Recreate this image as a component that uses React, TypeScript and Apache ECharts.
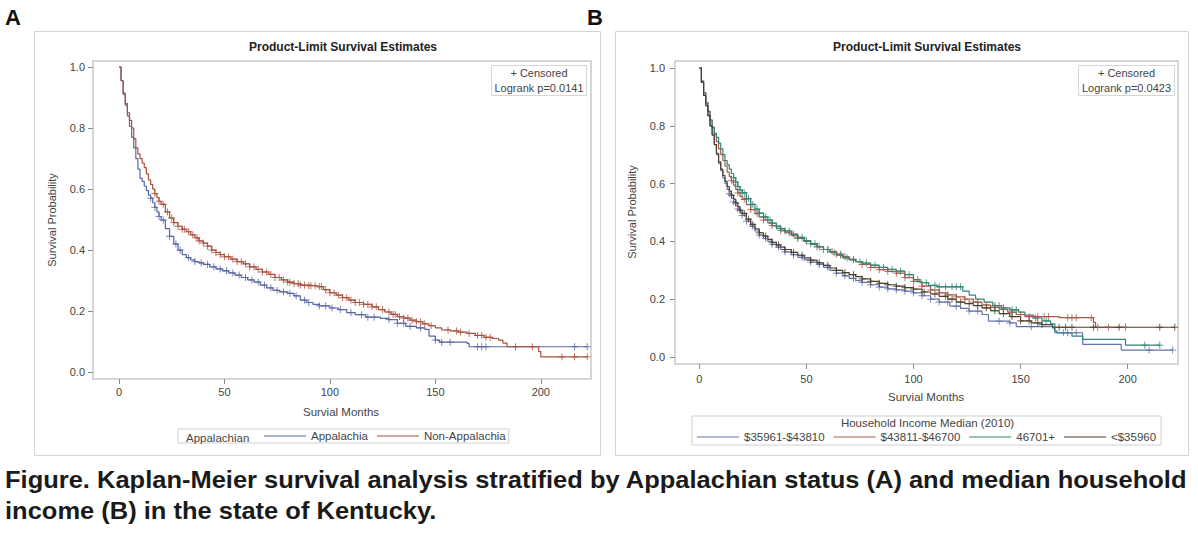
import React, { useEffect, useRef } from "react";
import * as echarts from "echarts";

// ---------- Panel A: survival by Appalachian status ----------
const appalachia: number[][] = [
  [0, 1], [1, 0.955], [2, 0.91], [3, 0.875], [4, 0.84], [5, 0.805], [6, 0.77], [7, 0.735], [8, 0.7],
  [9, 0.665], [10, 0.635], [11, 0.625], [12, 0.61], [13, 0.595], [14, 0.58], [15, 0.57], [16, 0.555],
  [17, 0.54], [18, 0.525], [19, 0.51], [20, 0.498], [22, 0.47], [24, 0.445], [26, 0.42], [28, 0.4],
  [30, 0.385], [32, 0.375], [34, 0.368], [36, 0.362], [38, 0.358], [40, 0.353], [43, 0.345], [46, 0.338],
  [49, 0.332], [52, 0.325], [55, 0.318], [58, 0.31], [61, 0.302], [64, 0.295], [67, 0.285], [70, 0.276],
  [73, 0.268], [76, 0.263], [80, 0.258], [83, 0.25], [86, 0.236], [89, 0.228], [92, 0.222], [95, 0.217],
  [100, 0.21], [104, 0.205], [108, 0.195], [112, 0.188], [117, 0.18], [124, 0.176], [128, 0.172],
  [132, 0.16], [136, 0.15], [141, 0.145], [145, 0.14], [147, 0.118], [150, 0.105], [152, 0.098],
  [165, 0.094], [166, 0.083], [222, 0.083],
];
const nonAppalachia: number[][] = [
  [0, 1], [1, 0.955], [2, 0.915], [3, 0.88], [4, 0.85], [5, 0.825], [6, 0.8], [7, 0.765], [8, 0.735],
  [9, 0.715], [10, 0.7], [11, 0.685], [12, 0.67], [13, 0.65], [14, 0.63], [15, 0.615], [16, 0.6],
  [17, 0.585], [18, 0.572], [19, 0.56], [20, 0.55], [22, 0.525], [24, 0.505], [26, 0.49], [28, 0.478],
  [30, 0.468], [32, 0.46], [34, 0.45], [36, 0.44], [38, 0.43], [40, 0.423], [42, 0.413], [44, 0.4],
  [46, 0.392], [48, 0.385], [50, 0.378], [53, 0.37], [56, 0.362], [59, 0.355], [62, 0.345], [65, 0.337],
  [68, 0.328], [71, 0.32], [74, 0.31], [77, 0.302], [80, 0.295], [83, 0.29], [86, 0.285], [90, 0.283],
  [94, 0.28], [97, 0.27], [100, 0.26], [103, 0.252], [106, 0.244], [109, 0.236], [112, 0.228],
  [116, 0.222], [120, 0.214], [123, 0.205], [126, 0.197], [129, 0.189], [132, 0.182], [135, 0.177],
  [138, 0.17], [141, 0.165], [144, 0.158], [147, 0.152], [150, 0.145], [153, 0.138], [157, 0.135],
  [161, 0.131], [165, 0.127], [169, 0.12], [173, 0.114], [177, 0.11], [180, 0.105], [182, 0.095],
  [184, 0.083], [199, 0.067], [200, 0.05], [222, 0.05],
];
const appalachiaCensored = [
  15, 17, 19, 21, 24, 27, 29, 33, 36, 39, 42, 45, 48, 51, 54, 57, 60, 63, 66, 69, 72, 75, 78, 81, 84,
  88, 90, 95, 98, 101, 105, 110, 115, 118, 121, 128, 132, 135, 138, 143, 150, 153, 157, 170, 172, 174,
  216, 222,
];
const nonAppalachiaCensored = [
  17, 19, 21, 23, 25, 26, 28, 30, 31, 33, 35, 37, 38, 40, 42, 44, 46, 48, 50, 52, 54, 56, 58, 60, 62,
  64, 66, 68, 70, 72, 74, 76, 78, 80, 81, 83, 85, 86, 88, 90, 91, 93, 95, 96, 98, 100, 102, 104, 106,
  108, 110, 112, 114, 116, 118, 120, 122, 125, 128, 130, 131, 133, 135, 137, 139, 141, 143, 145, 148,
  156, 160, 162, 166, 170, 172, 174, 176, 188, 196, 210, 216, 222,
];

// ---------- Panel B: survival by household income median ----------
const income35961: number[][] = [
  [0, 1], [1, 0.95], [2, 0.905], [3, 0.87], [4, 0.835], [5, 0.8], [6, 0.77], [7, 0.735], [8, 0.7],
  [9, 0.67], [10, 0.645], [11, 0.62], [12, 0.6], [13, 0.58], [14, 0.565], [15, 0.55], [16, 0.537],
  [17, 0.524], [18, 0.512], [19, 0.5], [20, 0.49], [22, 0.47], [24, 0.452], [26, 0.436], [28, 0.422],
  [30, 0.41], [32, 0.4], [34, 0.39], [36, 0.38], [38, 0.372], [40, 0.364], [43, 0.354], [46, 0.345],
  [49, 0.336], [52, 0.328], [55, 0.32], [58, 0.31], [61, 0.3], [64, 0.29], [67, 0.281], [70, 0.272],
  [73, 0.264], [76, 0.258], [80, 0.25], [84, 0.242], [88, 0.236], [92, 0.232], [96, 0.228], [100, 0.222],
  [104, 0.212], [108, 0.2], [112, 0.19], [117, 0.176], [122, 0.168], [126, 0.159], [132, 0.147],
  [135, 0.124], [145, 0.118], [148, 0.105], [165, 0.1], [166, 0.084], [179, 0.044], [197, 0.024],
  [221, 0.024],
];
const income43811: number[][] = [
  [0, 1], [1, 0.955], [2, 0.915], [3, 0.88], [4, 0.85], [5, 0.82], [6, 0.795], [7, 0.77], [8, 0.745],
  [9, 0.72], [10, 0.7], [11, 0.68], [12, 0.66], [13, 0.64], [14, 0.625], [15, 0.61], [16, 0.595],
  [17, 0.58], [18, 0.568], [19, 0.556], [20, 0.545], [22, 0.527], [24, 0.51], [26, 0.496], [28, 0.484],
  [30, 0.474], [32, 0.464], [34, 0.455], [36, 0.446], [38, 0.438], [40, 0.43], [43, 0.42], [46, 0.41],
  [49, 0.4], [52, 0.39], [55, 0.381], [58, 0.372], [61, 0.365], [64, 0.356], [67, 0.347], [70, 0.338],
  [73, 0.33], [76, 0.32], [80, 0.31], [84, 0.302], [88, 0.296], [92, 0.29], [96, 0.275], [100, 0.262],
  [104, 0.245], [108, 0.232], [112, 0.222], [116, 0.215], [120, 0.208], [124, 0.2], [128, 0.19],
  [132, 0.18], [136, 0.172], [140, 0.165], [144, 0.155], [148, 0.147], [152, 0.14], [168, 0.136],
  [184, 0.12], [185, 0.103], [199, 0.103],
];
const income46701: number[][] = [
  [0, 1], [1, 0.955], [2, 0.915], [3, 0.88], [4, 0.85], [5, 0.82], [6, 0.795], [7, 0.775], [8, 0.76],
  [9, 0.74], [10, 0.72], [11, 0.7], [12, 0.68], [13, 0.665], [14, 0.65], [15, 0.635], [16, 0.62],
  [17, 0.605], [18, 0.59], [19, 0.578], [20, 0.568], [22, 0.548], [24, 0.528], [26, 0.512], [28, 0.498],
  [30, 0.485], [32, 0.474], [34, 0.463], [36, 0.453], [38, 0.444], [40, 0.436], [43, 0.425], [46, 0.414],
  [49, 0.403], [52, 0.392], [55, 0.382], [58, 0.372], [61, 0.362], [64, 0.352], [67, 0.343], [70, 0.336],
  [73, 0.33], [76, 0.325], [80, 0.318], [84, 0.31], [88, 0.303], [92, 0.297], [96, 0.285], [100, 0.268],
  [103, 0.257], [107, 0.248], [111, 0.243], [123, 0.228], [126, 0.214], [129, 0.2], [133, 0.19],
  [137, 0.178], [141, 0.17], [145, 0.163], [149, 0.155], [152, 0.145], [156, 0.135], [160, 0.125],
  [164, 0.115], [166, 0.09], [167, 0.083], [174, 0.072], [179, 0.061], [199, 0.041], [215, 0.041],
];
const incomeUnder35960: number[][] = [
  [0, 1], [1, 0.95], [2, 0.905], [3, 0.87], [4, 0.835], [5, 0.8], [6, 0.768], [7, 0.735], [8, 0.705],
  [9, 0.675], [10, 0.65], [11, 0.628], [12, 0.608], [13, 0.59], [14, 0.574], [15, 0.56], [16, 0.546],
  [17, 0.533], [18, 0.52], [19, 0.508], [20, 0.497], [22, 0.477], [24, 0.459], [26, 0.443], [28, 0.43],
  [30, 0.418], [32, 0.407], [34, 0.397], [36, 0.388], [38, 0.38], [40, 0.372], [43, 0.362], [46, 0.352],
  [49, 0.343], [52, 0.335], [55, 0.326], [58, 0.317], [61, 0.308], [64, 0.3], [67, 0.292], [70, 0.285],
  [73, 0.278], [76, 0.27], [80, 0.262], [84, 0.255], [88, 0.25], [92, 0.245], [96, 0.24], [100, 0.235],
  [104, 0.225], [108, 0.218], [112, 0.21], [116, 0.2], [120, 0.19], [124, 0.185], [128, 0.178],
  [132, 0.17], [136, 0.16], [140, 0.15], [145, 0.14], [150, 0.125], [155, 0.118], [160, 0.112],
  [165, 0.103], [222, 0.103],
];
const income35961Censored = [
  14, 16, 18, 20, 22, 25, 28, 31, 34, 37, 40, 44, 48, 52, 56, 60, 64, 68, 72, 76, 80, 84, 88, 92, 96,
  100, 104, 108, 112, 116, 120, 126, 130, 140, 145, 155, 170, 172, 176, 210, 221,
];
const income43811Censored = [
  15, 18, 21, 24, 27, 30, 34, 38, 42, 46, 50, 55, 60, 62, 64, 66, 68, 72, 76, 80, 84, 88, 92, 96, 100,
  104, 108, 112, 116, 120, 124, 128, 130, 134, 138, 142, 146, 150, 154, 158, 161, 163, 172, 174, 176,
  183, 186, 191, 199,
];
const income46701Censored = [
  16, 17, 18, 19, 20, 21, 22, 23, 24, 25, 27, 28, 30, 31, 33, 34, 36, 38, 40, 42, 44, 46, 48, 50, 52,
  54, 56, 58, 60, 63, 66, 69, 72, 75, 78, 82, 86, 90, 94, 98, 102, 106, 110, 112, 115, 118, 120, 122,
  138, 140, 142, 146, 148, 157, 162, 208, 215,
];
const incomeUnder35960Censored = [
  15, 17, 19, 21, 23, 25, 28, 31, 34, 37, 40, 44, 48, 52, 56, 60, 64, 68, 72, 76, 80, 84, 88, 92, 96,
  100, 105, 110, 115, 118, 122, 126, 130, 134, 138, 142, 146, 150, 154, 158, 160, 168, 171, 174, 184,
  196, 215, 222,
];

const monthTicks = [0, 50, 100, 150, 200];
const probTicks = [0, 0.2, 0.4, 0.6, 0.8, 1.0];

const groupsA = [
  { name: "Appalachia", curve: appalachia, censored: appalachiaCensored, color: "#5867a3" },
  { name: "Non-Appalachia", curve: nonAppalachia, censored: nonAppalachiaCensored, color: "#a9503f" },
];
const groupsB = [
  { name: "$35961-$43810", curve: income35961, censored: income35961Censored, color: "#6373ad" },
  { name: "$43811-$46700", curve: income43811, censored: income43811Censored, color: "#a85a48" },
  { name: "46701+", curve: income46701, censored: income46701Censored, color: "#2f8577" },
  { name: "<$35960", curve: incomeUnder35960, censored: incomeUnder35960Censored, color: "#4e3d2b" },
];

const FONT = "'Liberation Sans', Arial, sans-serif";
const PLUS = "path://M0,5L10,5M5,0L5,10";

// Kaplan-Meier value in effect at time t (last step at or before t)
function survivalAt(curve: number[][], t: number): number {
  let v = curve[0][1];
  for (const [x, y] of curve) {
    if (x <= t) v = y;
    else break;
  }
  return v;
}

function makeSeries(groups: typeof groupsA, axisIndex: number) {
  const out: any[] = [];
  groups.forEach((g) => {
    out.push({
      type: "line",
      name: g.name,
      xAxisIndex: axisIndex,
      yAxisIndex: axisIndex,
      step: "end",
      showSymbol: false,
      data: g.curve,
      lineStyle: { color: g.color, width: 1.2 },
      itemStyle: { color: g.color },
      z: 2,
    });
    out.push({
      type: "scatter",
      name: g.name + " censored",
      xAxisIndex: axisIndex,
      yAxisIndex: axisIndex,
      symbol: PLUS,
      symbolSize: 7,
      data: g.censored.map((t) => [t, survivalAt(g.curve, t)]),
      itemStyle: { color: g.color, borderColor: g.color, borderWidth: 1 },
      z: 3,
    });
  });
  return out;
}

function axisPair(
  xMin: number, xMax: number, yMin: number, yMax: number, idx: number,
  xMargin: number, yMargin: number
) {
  const tickStyle = { show: true, length: 5, lineStyle: { color: "#8c8c8c", width: 1 } };
  const labelStyle = { color: "#444", fontSize: 11, fontFamily: FONT };
  return {
    x: {
      type: "value", gridIndex: idx, min: xMin, max: xMax, position: "bottom",
      splitLine: { show: false }, axisLine: { show: false, onZero: false },
      axisTick: { ...tickStyle, customValues: monthTicks },
      axisLabel: { ...labelStyle, margin: xMargin, customValues: monthTicks },
    },
    y: {
      type: "value", gridIndex: idx, min: yMin, max: yMax, position: "left",
      splitLine: { show: false }, axisLine: { show: false, onZero: false },
      axisTick: { ...tickStyle, customValues: probTicks },
      axisLabel: {
        ...labelStyle, margin: yMargin, customValues: probTicks,
        formatter: (v: number) => v.toFixed(1),
      },
    },
  };
}

function text(x: number, y: number, s: string, opts: any = {}) {
  return {
    type: "text",
    x, y,
    rotation: opts.rotation || 0,
    scaleX: opts.scaleX || 1,
    z: 10,
    style: {
      text: s,
      fill: opts.color || "#333",
      fontSize: opts.size || 11,
      fontWeight: opts.weight || "normal",
      fontFamily: FONT,
      textAlign: opts.align || "center",
      textVerticalAlign: "middle",
    },
  };
}

const caption1 = "Figure. Kaplan-Meier survival analysis stratified by Appalachian status (A) and median household";
const caption2 = "income (B) in the state of Kentucky.";

export default function App() {
  const ref = useRef<HTMLDivElement>(null);

  useEffect(() => {
    if (!ref.current) return;
    const chart = echarts.init(ref.current, undefined, { renderer: "svg" });

    // caption is set in a narrow bold face; squeeze the text to its line width
    const ctx = document.createElement("canvas").getContext("2d");
    let capScale = 0.85;
    if (ctx) {
      ctx.font = "bold 24px 'Liberation Sans'";
      const w = ctx.measureText(caption1).width;
      if (w > 0) capScale = 1183 / w;
    }

    const a = axisPair(-12.3, 223.8, -0.0227, 1.0197, 0, 7, 8);
    const b = axisPair(-11.34, 223.5, -0.0242, 1.0242, 1, 9, 10);

    const option: any = {
      animation: false,
      backgroundColor: "#ffffff",
      grid: [
        { left: 93, top: 61, width: 498, height: 318, show: true, borderColor: "#c9c9c9", borderWidth: 1.5, backgroundColor: "#fff" },
        { left: 675, top: 61, width: 503, height: 303, show: true, borderColor: "#c9c9c9", borderWidth: 1.5, backgroundColor: "#fff" },
      ],
      xAxis: [a.x, b.x],
      yAxis: [a.y, b.y],
      legend: [
        {
          data: groupsA.map((g) => g.name),
          left: 178, top: 429,
          orient: "horizontal",
          icon: "rect", itemWidth: 42, itemHeight: 1.2, itemGap: 9,
          padding: [1, 3, 1, 86],
          borderColor: "#cfcfcf", borderWidth: 1,
          textStyle: { color: "#444", fontSize: 11.5, fontFamily: FONT },
          selectedMode: false,
        },
        {
          data: groupsB.map((g) => g.name),
          left: 692, top: 416,
          orient: "horizontal",
          icon: "rect", itemWidth: 42, itemHeight: 1.2, itemGap: 9,
          padding: [15, 5, 2, 5],
          borderColor: "#cfcfcf", borderWidth: 1,
          textStyle: { color: "#444", fontSize: 11.5, fontFamily: FONT },
          selectedMode: false,
        },
      ],
      series: [...makeSeries(groupsA, 0), ...makeSeries(groupsB, 1)],
      graphic: [
        // panel frames
        { type: "rect", shape: { x: 34.5, y: 31.5, width: 566, height: 424 }, style: { fill: "none", stroke: "#d4d4d4", lineWidth: 1 }, z: 0 },
        { type: "rect", shape: { x: 615.5, y: 31.5, width: 573, height: 424 }, style: { fill: "none", stroke: "#d4d4d4", lineWidth: 1 }, z: 0 },
        // panel letters
        text(5, 17, "A", { size: 22, weight: "bold", align: "left", color: "#111" }),
        text(587, 17, "B", { size: 22, weight: "bold", align: "left", color: "#111" }),
        // titles
        text(343, 47, "Product-Limit Survival Estimates", { size: 12, weight: "bold", color: "#222" }),
        text(927, 47, "Product-Limit Survival Estimates", { size: 12, weight: "bold", color: "#222" }),
        // censor / logrank insets
        { type: "rect", shape: { x: 491.5, y: 65.5, width: 95, height: 30 }, style: { fill: "#fff", stroke: "#d6d6d6", lineWidth: 1 }, z: 9 },
        text(539, 73, "+ Censored", { color: "#444" }),
        text(539, 88, "Logrank p=0.0141", { color: "#444" }),
        { type: "rect", shape: { x: 1078.5, y: 65.5, width: 96, height: 30 }, style: { fill: "#fff", stroke: "#d6d6d6", lineWidth: 1 }, z: 9 },
        text(1126.5, 73, "+ Censored", { color: "#444" }),
        text(1126.5, 88, "Logrank p=0.0423", { color: "#444" }),
        // axis titles
        text(341, 411.5, "Survial Months", { size: 11.5, color: "#444" }),
        text(926, 397, "Survial Months", { size: 11.5, color: "#444" }),
        text(51.5, 220, "Survival Probability", { size: 11, color: "#444", rotation: Math.PI / 2 }),
        text(632, 212, "Survival Probability", { size: 11, color: "#444", rotation: Math.PI / 2 }),
        // legend headings
        text(186, 437.5, "Appalachian", { size: 11.5, color: "#444", align: "left" }),
        text(927.5, 422.5, "Household Income Median (2010)", { size: 11.5, color: "#444" }),
        // caption
        text(5, 480, caption1, { size: 24, weight: "bold", align: "left", color: "#1a1a1a", scaleX: capScale }),
        text(5, 511, caption2, { size: 24, weight: "bold", align: "left", color: "#1a1a1a", scaleX: capScale }),
      ],
    };
    chart.setOption(option);
    return () => chart.dispose();
  }, []);

  return (
    <div
      ref={ref}
      style={{ position: "absolute", left: 0, top: 0, width: 1198, height: 534, background: "#fff" }}
    />
  );
}
